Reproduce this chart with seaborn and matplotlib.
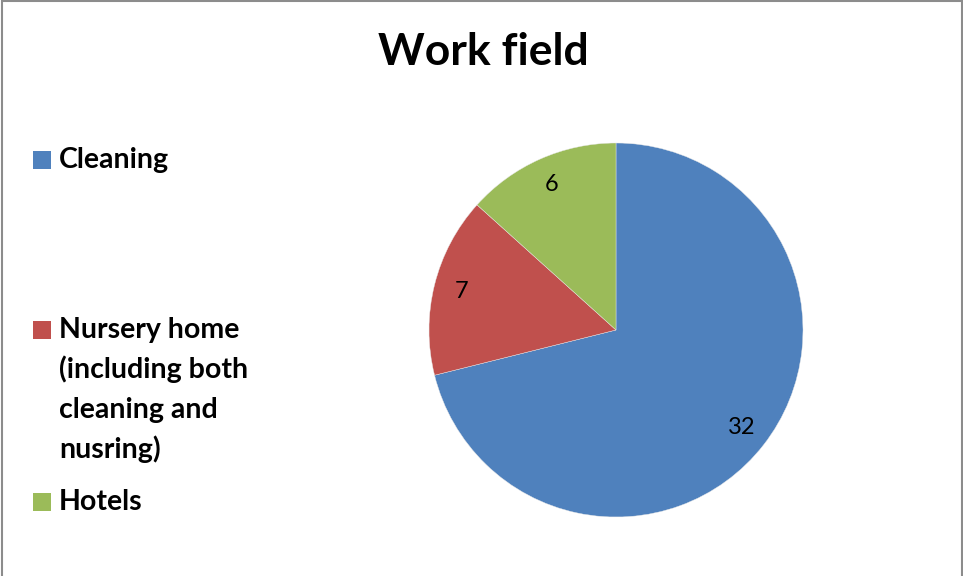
import numpy as np
import matplotlib
matplotlib.use('Agg')
import matplotlib.pyplot as plt
import matplotlib.patches as mpatches
import seaborn as sns

sns.set_theme(style='white')
plt.rcParams['font.family'] = ['Lato', 'DejaVu Sans']

# data
categories = ['Cleaning', 'Nursery home\n(including both\ncleaning and\nnusring)', 'Hotels']
values = [32, 7, 6]
colors = ['#4F81BD', '#C0504D', '#9BBB59']
title = 'Work field'

W, H = 963, 576
fig = plt.figure(figsize=(W / 100, H / 100), dpi=100)
fig.patch.set_facecolor('white')


def fx(x):
    return x / W


def fy(y):
    return 1 - y / H


# pie axes: centre (616, 330), radius 187 px
cx, cy, r = 616, 330, 187
ax = fig.add_axes([fx(cx - r), fy(cy + r), 2 * r / W, 2 * r / H])
total = sum(values)
wedges, _, autotexts = ax.pie(values, colors=colors, startangle=90, counterclock=False,
                              autopct=lambda p: f'{round(p * total / 100)}',
                              pctdistance=0.85, radius=1.0,
                              wedgeprops=dict(linewidth=0.3, edgecolor='#e8e8e8'),
                              textprops=dict(fontsize=17, color='black'))
ax.set_xlim(-1, 1)
ax.set_ylim(-1, 1)
ax.set_aspect('auto')
ax.axis('off')

fig.text(fx(483), fy(52), title, ha='center', va='center',
         fontsize=32, fontweight='bold', color='black')

# manual legend (Excel-style spacing)
baselines = [168, 338, 510]
line_step = 40
for label, color, base in zip(categories, colors, baselines):
    fig.add_artist(mpatches.Rectangle((fx(33), fy(base + 1)), 18 / W, 18 / H,
                                      transform=fig.transFigure, facecolor=color,
                                      edgecolor='none'))
    for i, line in enumerate(label.split('\n')):
        fig.text(fx(59), fy(base + i * line_step), line, ha='left', va='baseline',
                 fontsize=20.5, fontweight='bold', color='black')

# outer border
border = mpatches.Rectangle((fx(1.5), fy(H + 5)), (961.5 - 1.5) / W, (H + 5 - 1) / H,
                            transform=fig.transFigure, facecolor='none',
                            edgecolor='#8c8c8c', linewidth=1.5)
fig.add_artist(border)

fig.savefig('out.png', dpi=100, facecolor='white')
